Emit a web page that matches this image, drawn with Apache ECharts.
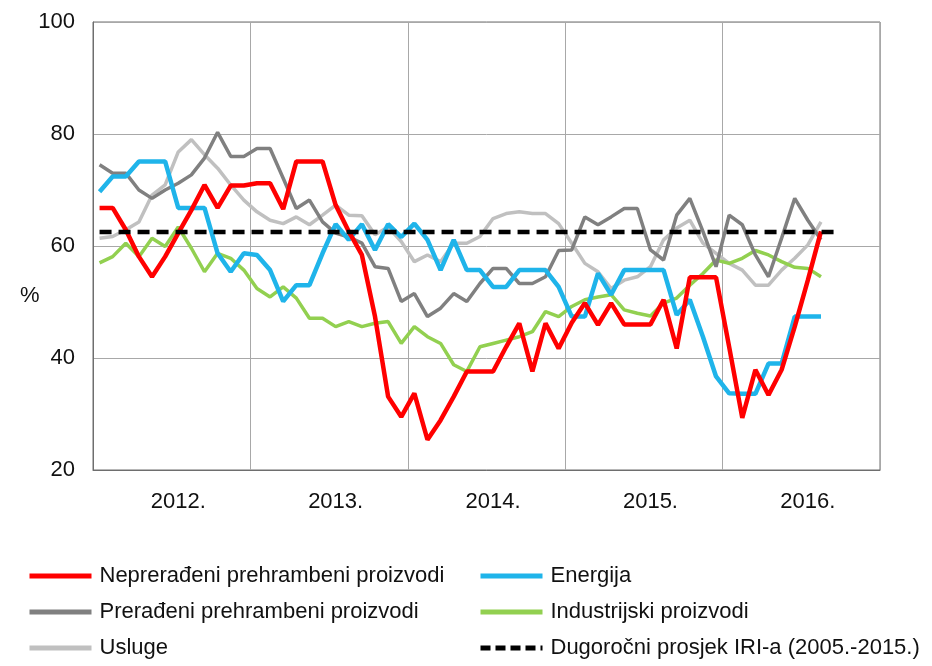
<!DOCTYPE html>
<html>
<head>
<meta charset="utf-8">
<script src="https://cdn.jsdelivr.net/npm/echarts@6/dist/echarts.min.js"></script>
<style>
  html, body { margin: 0; padding: 0; background: #fff; }
  #chart { width: 932px; height: 666px; }
</style>
</head>
<body>
<div id="chart"></div>
<script>
// godine na osi x (po 12 mjeseci)
var years = ['2012.', '2013.', '2014.', '2015.', '2016.'];

var neprerađeni = [66.8, 66.8, 62.9, 58.1, 54.5, 58.1, 62.3, 66.4, 70.9, 66.8, 70.8, 70.8,
  71.2, 71.2, 66.6, 75.1, 75.1, 75.1, 67.3, 62.6, 58.4, 47.4, 33.1, 29.5,
  33.7, 25.4, 28.9, 33.1, 37.6, 37.6, 37.6, 42.0, 46.2, 37.6, 46.2, 41.7,
  46.3, 49.8, 45.9, 49.8, 46.0, 46.0, 46.0, 50.4, 41.7, 54.4, 54.4, 54.4,
  42.0, 29.3, 37.9, 33.4, 37.9, 45.6, 53.9, 62.6];

var energija = [69.7, 72.4, 72.4, 75.1, 75.1, 75.1, 66.8, 66.8, 66.8, 58.7, 55.4, 58.7,
  58.4, 55.7, 50.1, 53.0, 53.0, 58.7, 63.9, 61.1, 63.9, 59.3, 63.9, 61.6,
  64.0, 61.1, 55.7, 61.1, 55.7, 55.7, 52.7, 52.7, 55.7, 55.7, 55.7, 52.7,
  47.4, 47.4, 55.1, 51.3, 55.7, 55.7, 55.7, 55.7, 47.7, 50.4, 43.8, 36.7,
  33.7, 33.6, 33.6, 39.0, 39.0, 47.4, 47.4, 47.4];

var prerađeni = [74.5, 73.0, 73.0, 70.0, 68.5, 70.0, 71.2, 72.7, 75.7, 80.3, 76.0, 76.0,
  77.4, 77.4, 72.1, 66.7, 68.2, 64.3, 62.3, 61.6, 60.5, 56.3, 56.0, 50.1,
  51.5, 47.4, 48.9, 51.5, 50.1, 53.3, 56.0, 56.0, 53.3, 53.3, 54.5, 59.2,
  59.3, 65.2, 63.8, 65.2, 66.7, 66.7, 59.3, 57.5, 65.5, 68.5, 62.6, 56.3,
  65.5, 63.8, 58.4, 54.5, 61.4, 68.5, 64.6, 61.1];

var industrijski = [57.0, 58.1, 60.5, 58.1, 61.4, 59.9, 63.4, 59.6, 55.4, 58.7, 57.8, 55.7,
  52.4, 50.9, 52.7, 50.7, 47.1, 47.1, 45.6, 46.5, 45.6, 46.2, 46.5, 42.6,
  45.6, 43.8, 42.6, 38.8, 37.6, 42.0, 42.6, 43.2, 43.8, 44.7, 48.3, 47.4,
  49.2, 50.4, 50.9, 51.3, 48.6, 48.0, 47.5, 49.8, 50.7, 53.0, 55.1, 57.5,
  56.9, 57.8, 59.2, 58.4, 57.2, 56.2, 56.0, 54.5];

var usluge = [61.4, 61.7, 62.9, 64.3, 69.1, 70.9, 76.8, 79.0, 76.3, 73.9, 70.9, 68.2,
  66.1, 64.6, 64.0, 65.2, 63.8, 65.5, 67.3, 65.5, 65.4, 62.0, 63.4, 60.8,
  57.2, 58.4, 57.2, 60.5, 60.5, 61.7, 64.9, 65.8, 66.1, 65.8, 65.8, 64.0,
  60.5, 56.9, 55.4, 52.4, 53.9, 54.5, 56.3, 61.1, 63.2, 64.6, 60.5, 58.7,
  56.9, 55.7, 53.0, 53.0, 55.7, 57.8, 60.2, 64.3];

// dugoročni prosjek IRI-a
var prosjek = [62.5, 62.5, 62.5, 62.5, 62.5, 62.5, 62.5, 62.5, 62.5, 62.5, 62.5, 62.5,
  62.5, 62.5, 62.5, 62.5, 62.5, 62.5, 62.5, 62.5, 62.5, 62.5, 62.5, 62.5,
  62.5, 62.5, 62.5, 62.5, 62.5, 62.5, 62.5, 62.5, 62.5, 62.5, 62.5, 62.5,
  62.5, 62.5, 62.5, 62.5, 62.5, 62.5, 62.5, 62.5, 62.5, 62.5, 62.5, 62.5,
  62.5, 62.5, 62.5, 62.5, 62.5, 62.5, 62.5, 62.5, 62.5];

var yTicks = [20, 40, 60, 80, 100];

var months = [];
years.forEach(function (y) {
  for (var m = 0; m < 12; m++) months.push(y);
});

var FONT = "'Liberation Sans', Arial, sans-serif";

var names = ['Neprerađeni prehrambeni proizvodi', 'Energija', 'Prerađeni prehrambeni proizvodi',
  'Industrijski proizvodi', 'Usluge', 'Dugoročni prosjek IRI-a (2005.-2015.)'];

function leg(name, left, top, dashed) {
  return {
    data: [name], left: left, top: top, padding: 0,
    itemWidth: 62, itemHeight: 14,
    itemStyle: { opacity: 0 },
    lineStyle: dashed ? { width: 5, type: [10, 5] } : { width: 5 },
    textStyle: { fontFamily: FONT, fontSize: 22, color: '#111', padding: [0, 0, 0, 3] }
  };
}

var myChart = echarts.init(document.getElementById('chart'));
var option = {
  animation: false,
  backgroundColor: '#fff',
  graphic: [{
    type: 'text', left: 20, top: 285,
    style: { text: '%', fontFamily: FONT, fontSize: 22, fill: '#111' }
  }],
  legend: [
    leg(names[0], 27, 565), leg(names[1], 478, 565),
    leg(names[2], 27, 601), leg(names[3], 478, 601),
    leg(names[4], 27, 637), leg(names[5], 478, 637, true)
  ],
  grid: {
    left: 93, right: 52, top: 22, bottom: 196,
    show: true, borderColor: '#6e6e6e', borderWidth: 1
  },
  xAxis: {
    type: 'category',
    data: months,
    boundaryGap: true,
    axisLine: { show: true, lineStyle: { color: '#6e6e6e' } },
    axisTick: { show: false },
    axisLabel: {
      interval: function (i) { return i % 12 === 6; },
      margin: 21,
      fontFamily: FONT, fontSize: 22, color: '#111'
    },
    splitLine: {
      show: true,
      interval: function (i) { return i % 12 === 0; },
      lineStyle: { color: '#a8a8a8', width: 1 }
    }
  },
  yAxis: {
    type: 'value',
    min: yTicks[0], max: yTicks[yTicks.length - 1], interval: 20,
    axisLine: { show: true, lineStyle: { color: '#6e6e6e' } },
    axisTick: { show: false },
    axisLabel: { margin: 18, fontFamily: FONT, fontSize: 22, color: '#111' },
    splitLine: { lineStyle: { color: '#a8a8a8', width: 1 } }
  },
  series: [
    { name: names[4], type: 'line', data: usluge, symbol: 'none',
      lineStyle: { color: '#c0c0c0', width: 3.5 }, itemStyle: { color: '#c0c0c0' } },
    { name: names[3], type: 'line', data: industrijski, symbol: 'none',
      lineStyle: { color: '#92d050', width: 3.5 }, itemStyle: { color: '#92d050' } },
    { name: names[2], type: 'line', data: prerađeni, symbol: 'none',
      lineStyle: { color: '#808080', width: 3.5 }, itemStyle: { color: '#808080' } },
    { name: names[1], type: 'line', data: energija, symbol: 'none',
      lineStyle: { color: '#1fb4ea', width: 4.5 }, itemStyle: { color: '#1fb4ea' } },
    { name: names[0], type: 'line', data: neprerađeni, symbol: 'none',
      lineStyle: { color: '#ff0000', width: 4.5 }, itemStyle: { color: '#ff0000' } },
    { name: names[5], type: 'line', data: prosjek, symbol: 'none',
      lineStyle: { color: '#000', width: 4.5, type: [12, 7] }, itemStyle: { color: '#000' } }
  ]
};
myChart.setOption(option);
</script>
</body>
</html>
